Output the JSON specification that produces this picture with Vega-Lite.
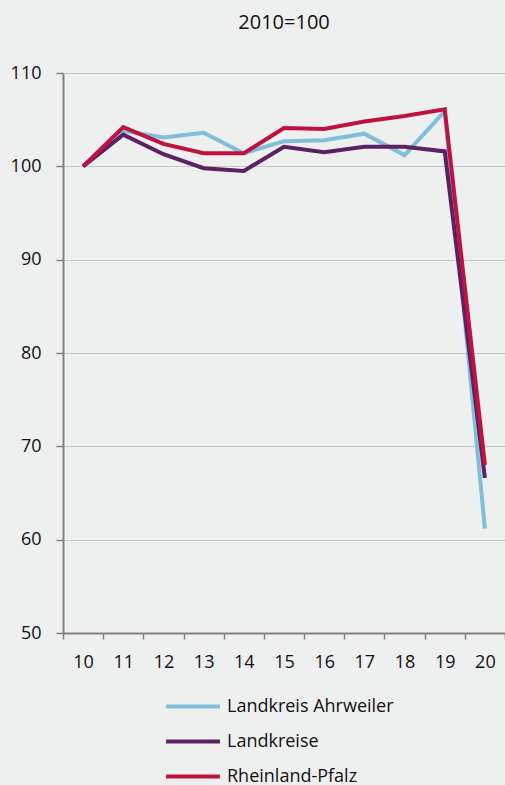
{
  "$schema": "https://vega.github.io/schema/vega-lite/v6.json",
  "autosize": {"type": "none"},
  "padding": {"left": 63, "top": 73, "right": 0, "bottom": 152},
  "width": 442,
  "height": 560,
  "background": "#eef0ef",
  "title": {"text": "2010=100", "fontSize": 20, "font": "Open Sans", "fontWeight": "normal", "color": "#111111", "offset": 31, "anchor": "middle"},
  "config": {
    "view": {"stroke": null},
    "font": "Open Sans"
  },
  "data": {
    "values": [
      {"year": "10", "series": "Landkreis Ahrweiler", "value": 100},
      {"year": "11", "series": "Landkreis Ahrweiler", "value": 103.8},
      {"year": "12", "series": "Landkreis Ahrweiler", "value": 103.1},
      {"year": "13", "series": "Landkreis Ahrweiler", "value": 103.6},
      {"year": "14", "series": "Landkreis Ahrweiler", "value": 101.4},
      {"year": "15", "series": "Landkreis Ahrweiler", "value": 102.7},
      {"year": "16", "series": "Landkreis Ahrweiler", "value": 102.8},
      {"year": "17", "series": "Landkreis Ahrweiler", "value": 103.5},
      {"year": "18", "series": "Landkreis Ahrweiler", "value": 101.2},
      {"year": "19", "series": "Landkreis Ahrweiler", "value": 105.9},
      {"year": "20", "series": "Landkreis Ahrweiler", "value": 61.2},
      {"year": "10", "series": "Landkreise", "value": 100},
      {"year": "11", "series": "Landkreise", "value": 103.4},
      {"year": "12", "series": "Landkreise", "value": 101.3},
      {"year": "13", "series": "Landkreise", "value": 99.8},
      {"year": "14", "series": "Landkreise", "value": 99.5},
      {"year": "15", "series": "Landkreise", "value": 102.1},
      {"year": "16", "series": "Landkreise", "value": 101.5},
      {"year": "17", "series": "Landkreise", "value": 102.1},
      {"year": "18", "series": "Landkreise", "value": 102.1},
      {"year": "19", "series": "Landkreise", "value": 101.6},
      {"year": "20", "series": "Landkreise", "value": 66.6},
      {"year": "10", "series": "Rheinland-Pfalz", "value": 100},
      {"year": "11", "series": "Rheinland-Pfalz", "value": 104.2},
      {"year": "12", "series": "Rheinland-Pfalz", "value": 102.4},
      {"year": "13", "series": "Rheinland-Pfalz", "value": 101.4},
      {"year": "14", "series": "Rheinland-Pfalz", "value": 101.4},
      {"year": "15", "series": "Rheinland-Pfalz", "value": 104.1},
      {"year": "16", "series": "Rheinland-Pfalz", "value": 104.0},
      {"year": "17", "series": "Rheinland-Pfalz", "value": 104.8},
      {"year": "18", "series": "Rheinland-Pfalz", "value": 105.4},
      {"year": "19", "series": "Rheinland-Pfalz", "value": 106.1},
      {"year": "20", "series": "Rheinland-Pfalz", "value": 68.0}
    ]
  },
  "mark": {"type": "line", "strokeWidth": 4, "strokeJoin": "miter", "strokeCap": "butt"},
  "encoding": {
    "x": {
      "field": "year", "type": "ordinal", "bandPosition": 0.5,
      "scale": {"type": "band", "paddingInner": 0, "paddingOuter": 0},
      "axis": {"title": null, "labelAngle": 0, "tickBand": "extent", "grid": false, "tickSize": 6, "tickColor": "#808080", "tickWidth": 1.5, "domainColor": "#808080", "domainWidth": 2, "labelFontSize": 18, "labelColor": "#111111", "labelPadding": 14}
    },
    "y": {
      "field": "value", "type": "quantitative",
      "scale": {"domain": [50, 110], "nice": false, "zero": false},
      "axis": {"title": null, "values": [50, 60, 70, 80, 90, 100, 110], "grid": true, "gridColor": "#c6c8c8", "gridWidth": 1, "tickSize": 7, "tickColor": "#808080", "tickWidth": 1.5, "domainColor": "#808080", "domainWidth": 2, "labelFontSize": 18, "labelColor": "#111111", "labelPadding": 15}
    },
    "color": {
      "field": "series", "type": "nominal",
      "scale": {"domain": ["Landkreis Ahrweiler", "Landkreise", "Rheinland-Pfalz"], "range": ["#80bed9", "#5b2162", "#bf1241"]},
      "legend": {"title": null, "orient": "none", "legendX": 101, "legendY": 616, "direction": "vertical", "symbolType": "stroke", "symbolSize": 2900, "symbolStrokeWidth": 4, "labelFontSize": 18, "labelColor": "#111111", "labelOffset": 5, "labelLimit": 400, "clipHeight": 35, "rowPadding": 0}
    }
  }
}
